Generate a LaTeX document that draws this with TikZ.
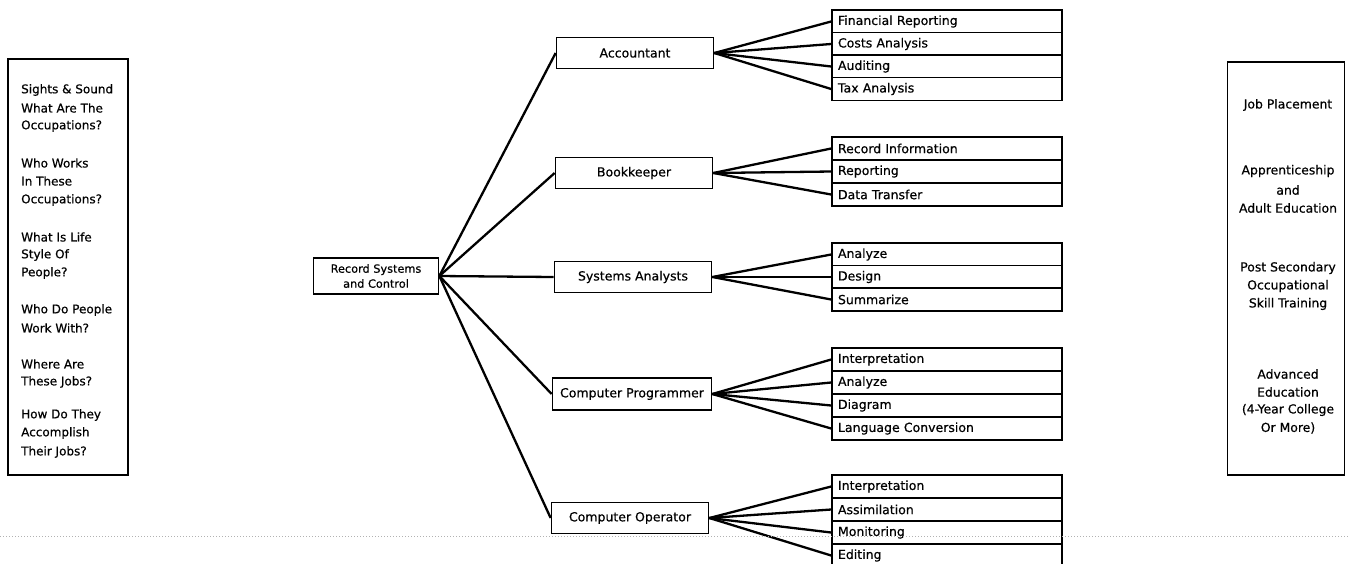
\documentclass[tikz,border=0pt]{standalone}
\usepackage{fontspec}
\setmainfont{DejaVu Sans}[FakeBold=0.5]
\begin{document}
\begin{tikzpicture}[x=1pt,y=-1pt,
  box/.style={draw, line width=1.7pt, fill=white, inner sep=0pt},
  jobbox/.style={box, minimum width=157pt, minimum height=31pt,
    font=\fontsize{12.5}{14}\selectfont},
  subbox/.style={box, text width=218pt, inner xsep=6pt, minimum height=22.8pt,
    align=left, font=\fontsize{12.5}{14}\selectfont},
  frame/.style={draw, line width=1.7pt, inner sep=0pt},
  lefttxt/.style={inner sep=0pt, font=\fontsize{12}{13}\selectfont},
  righttxt/.style={inner sep=0pt, font=\fontsize{12.4}{13}\selectfont},
  link/.style={line width=2.3pt},
  crease/.style={gray!60, line width=1pt, dotted}
]
\useasboundingbox (0,0) rectangle (1348,563);
\clip (0,0) rectangle (1348,563);

% side panels
\node[frame, minimum width=120pt, minimum height=416pt] (questions) at (68,267) {};
\node[frame, minimum width=117pt, minimum height=413pt] (outcomes) at (1286,268.5) {};

\foreach \t/\y [count=\i] in {{Sights \& Sound}/90, {What Are The}/108, {Occupations?}/126,
    {Who Works}/163, {In These}/181, {Occupations?}/200,
    {What Is Life}/237, {Style Of}/255, {People?}/273,
    {Who Do People}/310, {Work With?}/328,
    {Where Are}/364, {These Jobs?}/382,
    {How Do They}/415, {Accomplish}/433, {Their Jobs?}/452}
  \node[lefttxt, anchor=west] (q\i) at (21,\y) {\t};

\foreach \t/\y [count=\i] in {{Job Placement}/105,
    {Apprenticeship}/171, {and}/190, {Adult Education}/208,
    {Post Secondary}/268, {Occupational}/286, {Skill Training}/304,
    {Advanced}/374, {Education}/392, {(4-Year College}/410, {Or More)}/428}
  \node[righttxt] (o\i) at (1288,\y) {\t};

% root
\node[box, minimum width=125pt, minimum height=36pt, align=center,
  font=\fontsize{11.3}{15}\selectfont] (root) at (376,276) {Record Systems\\and Control};

% occupations
\node[jobbox] (acc) at (635,53) {Accountant};
\node[jobbox] (book) at (634,173) {Bookkeeper};
\node[jobbox] (sys) at (633,277) {Systems Analysts};
\node[jobbox, minimum width=159pt, minimum height=32pt] (prog) at (632,394) {Computer Programmer};
\node[jobbox] (oper) at (630,518) {Computer Operator};

% tasks
\node[subbox] (a1) at (947,21.5) {Financial Reporting};
\node[subbox] (a2) at (947,44) {Costs Analysis};
\node[subbox] (a3) at (947,66.5) {Auditing};
\node[subbox] (a4) at (947,89) {Tax Analysis};

\node[subbox] (b1) at (947,148.5) {Record Information};
\node[subbox] (b2) at (947,171.5) {Reporting};
\node[subbox] (b3) at (947,194.5) {Data Transfer};

\node[subbox] (s1) at (947,254.5) {Analyze};
\node[subbox] (s2) at (947,277) {Design};
\node[subbox] (s3) at (947,299.5) {Summarize};

\node[subbox] (p1) at (947,359.5) {Interpretation};
\node[subbox] (p2) at (947,382.5) {Analyze};
\node[subbox] (p3) at (947,405.5) {Diagram};
\node[subbox] (p4) at (947,428.5) {Language Conversion};

\node[subbox] (c1) at (947,486.5) {Interpretation};
\node[subbox] (c2) at (947,509.5) {Assimilation};
\node[subbox] (c3) at (947,532.5) {Monitoring};
\node[subbox] (c4) at (947,555.5) {Editing};

% connectors
\foreach \j in {acc,book,sys,prog,oper}
  \draw[link] (root.east) -- (\j.west);
\foreach \s in {a1,a2,a3,a4} \draw[link] (acc.east) -- (\s.west);
\foreach \s in {b1,b2,b3} \draw[link] (book.east) -- (\s.west);
\foreach \s in {s1,s2,s3} \draw[link] (sys.east) -- (\s.west);
\foreach \s in {p1,p2,p3,p4} \draw[link] (prog.east) -- (\s.west);
\foreach \s in {c1,c2,c3,c4} \draw[link] (oper.east) -- (\s.west);

% fold line across the sheet
\coordinate (foldL) at (0,536);
\coordinate (foldR) at (1348,536);
\draw[crease] (foldL) -- (foldR);
\end{tikzpicture}
\end{document}
